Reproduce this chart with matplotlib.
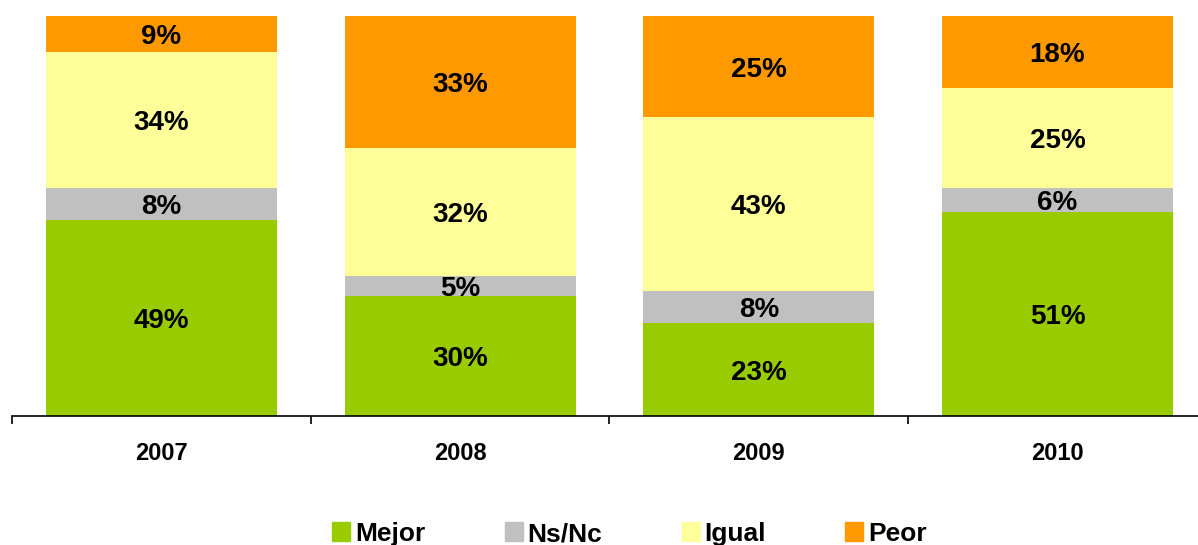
import numpy as np
import matplotlib.pyplot as plt
from matplotlib.patches import Patch

plt.rcParams['font.family'] = ['Liberation Sans', 'DejaVu Sans']

years = ["2007", "2008", "2009", "2010"]
mejor = [49, 30, 23, 51]
nsnc = [8, 5, 8, 6]
igual = [34, 32, 43, 25]
peor = [9, 33, 25, 18]

series = [("Mejor", mejor, "#99cc00"), ("Ns/Nc", nsnc, "#c0c0c0"),
          ("Igual", igual, "#ffff99"), ("Peor", peor, "#ff9900")]

fig = plt.figure(figsize=(11.98, 5.45), dpi=100)
ax = fig.add_axes([12.2 / 1198, 129 / 545, 1194.6 / 1198, 400 / 545])

x = np.arange(len(years))
totals = np.sum([s[1] for s in series], axis=0)
bottom = np.zeros(len(years))
for name, vals, col in series:
    h = np.array(vals) / totals * 100
    ax.bar(x, h, 0.773, bottom=bottom, color=col, label=name)
    for xi, b, hi, v in zip(x, bottom, h, vals):
        ax.text(xi, b + hi / 2, f"{v}%", ha="center", va="center_baseline",
                fontsize=20, fontweight="bold")
    bottom += h

ax.set_xlim(-0.5, 3.5)
ax.set_ylim(0, 100)
for s in ["left", "right", "top"]:
    ax.spines[s].set_visible(False)
ax.spines["bottom"].set_linewidth(1.2)
ax.set_yticks([])
ax.set_xticks(x)
ax.set_xticklabels(years, fontsize=17, fontweight="bold")
ax.tick_params(axis="x", length=0, pad=19)
ax.set_xticks(np.arange(-0.5, 3.6, 1), minor=True)
ax.tick_params(axis="x", which="minor", length=6, width=1.2)

handles = [Patch(color=c) for _, _, c in series]
fig.legend(handles, [s[0] for s in series], loc="center", ncol=4,
           bbox_to_anchor=(0.5255, 0.02), frameon=False,
           prop={"weight": "bold", "size": 19},
           handlelength=0.68, handleheight=0.72, handletextpad=0.19,
           columnspacing=3.0, borderpad=0)

fig.savefig("out.png", dpi=100)
